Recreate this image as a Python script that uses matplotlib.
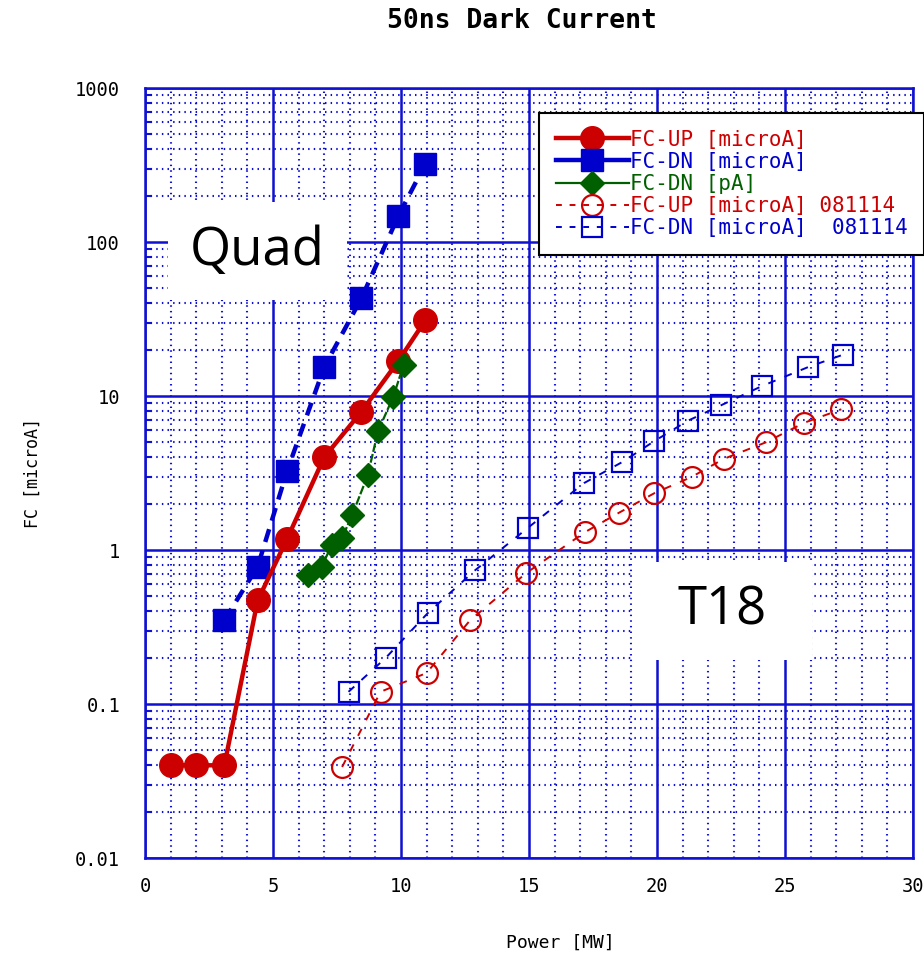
import matplotlib
matplotlib.use("Agg")
import matplotlib.pyplot as plt
from matplotlib.lines import Line2D
from matplotlib.patches import Rectangle
from matplotlib.ticker import FixedLocator, FixedFormatter, LogLocator, MultipleLocator

# ---------------- data ----------------
up_x = [1.0, 2.0, 3.1, 4.4, 5.55, 7.0, 8.45, 9.9, 10.95]
up_y = [0.04, 0.04, 0.04, 0.47, 1.18, 4.0, 7.9, 16.9, 31.0]

dn_x = [3.1, 4.4, 5.55, 7.0, 8.45, 9.9, 10.95]
dn_y = [0.35, 0.78, 3.26, 15.4, 43.0, 148.0, 321.0]

pa_x = [6.35, 6.9, 7.3, 7.7, 8.1, 8.7, 9.1, 9.7, 10.1]
pa_y = [0.69, 0.78, 1.08, 1.2, 1.7, 3.05, 5.9, 9.9, 15.9]

up0_x = [7.7, 9.2, 11.0, 12.7, 14.9, 17.2, 18.5, 19.9, 21.35, 22.6, 24.25, 25.75, 27.2]
up0_y = [0.039, 0.12, 0.159, 0.35, 0.71, 1.31, 1.74, 2.34, 2.98, 3.9, 5.0, 6.7, 8.2]

dn0_x = [7.95, 9.4, 11.05, 12.9, 14.95, 17.15, 18.65, 19.9, 21.2, 22.5, 24.1, 25.9, 27.25]
dn0_y = [0.12, 0.199, 0.39, 0.74, 1.39, 2.72, 3.73, 5.1, 6.9, 8.7, 11.6, 15.4, 18.5]

labels = ["FC-UP [microA]", "FC-DN [microA]", "FC-DN [pA]",
          "FC-UP [microA] 081114", "FC-DN [microA]  081114"]

x_ticks = [0, 5, 10, 15, 20, 25, 30]
y_ticks = [0.01, 0.1, 1, 10, 100, 1000]
y_tick_labels = ["0.01", "0.1", "1", "10", "100", "1000"]

title = "50ns Dark Current"
xlabel = "Power [MW]"
ylabel = "FC [microA]"

# ---------------- style ----------------
RED = "#CC0000"
BLUE = "#0000CC"
GREEN = "#006000"
GRID = "#1010D0"
MONO = "DejaVu Sans Mono"

W, H = 924, 956
AX_L, AX_R, AX_T, AX_B = 145, 913, 88, 858
AW, AH = AX_R - AX_L, AX_B - AX_T

fig = plt.figure(figsize=(W / 100, H / 100), dpi=100)
ax = fig.add_axes([AX_L / W, 1 - AX_B / H, AW / W, AH / H])

ax.set_yscale("log")
ax.set_xlim(0, 30)
ax.set_ylim(0.01, 1000)

# grid
ax.xaxis.set_major_locator(FixedLocator(x_ticks))
ax.xaxis.set_minor_locator(MultipleLocator(1))
ax.yaxis.set_major_locator(FixedLocator(y_ticks))
ax.yaxis.set_major_formatter(FixedFormatter(y_tick_labels))
ax.yaxis.set_minor_locator(LogLocator(base=10, subs=range(2, 10), numticks=20))
ax.yaxis.set_minor_formatter(FixedFormatter([]))
ax.grid(which="major", color=GRID, lw=1.8, ls="-")
ax.grid(which="minor", color=GRID, lw=1.5, ls=(0, (0.7, 2.0)))
ax.set_axisbelow(True)

for s in ax.spines.values():
    s.set_color(GRID)
    s.set_linewidth(1.8)

ax.tick_params(which="major", length=0, colors="black", labelsize=13.5)
ax.tick_params(axis="y", which="major", pad=18)
ax.tick_params(axis="x", which="major", pad=14)
ax.tick_params(axis="y", which="minor", direction="in", length=5, color=GRID, width=1.5)
ax.tick_params(axis="x", which="minor", length=0)
for lab in ax.get_xticklabels() + ax.get_yticklabels():
    lab.set_family(MONO)

# series
ax.plot(up_x, up_y, color=RED, lw=3.2, marker="o", ms=17, mfc=RED, mec=RED, zorder=5)
ax.plot(dn_x, dn_y, color=BLUE, lw=3.2, ls=(0, (3, 2)), marker="s", ms=16, mfc=BLUE, mec=BLUE, zorder=4)
ax.plot(pa_x, pa_y, color=GREEN, lw=1.6, ls=(0, (4, 1)), marker="D", ms=12, mfc=GREEN, mec=GREEN, zorder=6)
ax.plot(up0_x, up0_y, color=RED, lw=1.4, ls=(0, (4, 5)), marker="o", ms=15, mfc="none", mec=RED, mew=1.6, zorder=3)
ax.plot(dn0_x, dn0_y, color=BLUE, lw=1.4, ls=(0, (4, 5)), marker="s", ms=15, mfc="none", mec=BLUE, mew=1.6, zorder=3)

# labels
fig.text(522 / W, 1 - 21 / H, title, family=MONO, weight="bold", fontsize=19,
         ha="center", va="center")
ax.set_xlabel(xlabel, family=MONO, fontsize=13)
ax.xaxis.set_label_coords((560 - AX_L) / AW, -(934 - AX_B) / AH)
ax.set_ylabel(ylabel, family=MONO, fontsize=12)
ax.yaxis.set_label_coords(-(AX_L - 42) / AW, 0.5)


def ax_box(x0, y0, x1, y1):
    """pixel box (top-left / bottom-right) -> axes-fraction rectangle"""
    return ((x0 - AX_L) / AW, (AX_B - y1) / AH, (x1 - x0) / AW, (y1 - y0) / AH)


# annotation boxes
for (x0, y0, x1, y1), txt in [((168, 202, 347, 300), "Quad"), ((632, 562, 812, 660), "T18")]:
    bx, by, bw, bh = ax_box(x0, y0, x1, y1)
    ax.add_patch(Rectangle((bx, by), bw, bh, transform=ax.transAxes, fc="white", ec="none", zorder=8))
    ax.text(bx + bw / 2, by + bh / 2, txt, transform=ax.transAxes, family="Open Sans",
            fontsize=38, ha="center", va="center", color="black", zorder=9)

# legend (proxy handles with solid lines for filled series)
handles = [
    Line2D([], [], color=RED, lw=3.2, marker="o", ms=17, mfc=RED, mec=RED),
    Line2D([], [], color=BLUE, lw=3.2, marker="s", ms=16, mfc=BLUE, mec=BLUE),
    Line2D([], [], color=GREEN, lw=1.6, marker="D", ms=12, mfc=GREEN, mec=GREEN),
    Line2D([], [], color=RED, lw=1.4, ls=(0, (3, 4)), marker="o", ms=15, mfc="none", mec=RED, mew=1.6),
    Line2D([], [], color=BLUE, lw=1.4, ls=(0, (3, 4)), marker="s", ms=15, mfc="none", mec=BLUE, mew=1.6),
]
leg = fig.legend(handles, labels, loc="upper right", bbox_to_anchor=(1.0, 1 - 113 / H),
                 prop={"family": MONO, "size": 15}, frameon=True, fancybox=False,
                 edgecolor="black", framealpha=1, handlelength=3.5, handletextpad=0.05,
                 labelspacing=0.1, borderpad=0.8, borderaxespad=0)
leg.get_frame().set_linewidth(1.5)
for t, c in zip(leg.get_texts(), [RED, BLUE, GREEN, RED, BLUE]):
    t.set_color(c)
leg.set_zorder(10)

fig.savefig("out.png", dpi=100)
